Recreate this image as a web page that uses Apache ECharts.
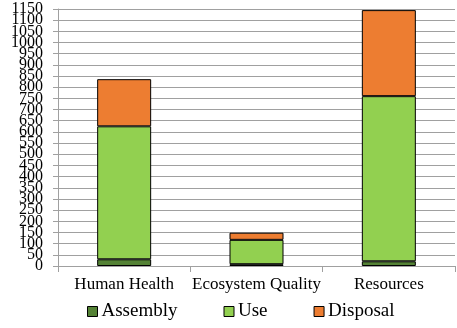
<!DOCTYPE html>
<html>
<head>
<meta charset="utf-8">
<script src="https://cdn.jsdelivr.net/npm/echarts@6/dist/echarts.min.js"></script>
<style>
html,body{margin:0;padding:0;background:#fff;}
#chart{width:457px;height:328px;}
</style>
</head>
<body>
<div id="chart"></div>
<script>
var categories = ['Human Health', 'Ecosystem Quality', 'Resources'];
var assembly = [30, 8, 21];
var use = [595, 109, 739];
var disposal = [211, 32, 385];
var seriesNames = ['Assembly', 'Use', 'Disposal'];
var yMin = 0, yMax = 1150, yStep = 50;

var FONT = '"Liberation Serif", "Times New Roman", serif';
var colors = ['#548235', '#92d050', '#ed7d31'];
var values = [assembly, use, disposal];

var labelBase = {fontFamily: FONT, fontSize: 16, color: '#000', margin: 15, hideOverlap: false};

var chart = echarts.init(document.getElementById('chart'), null, {renderer: 'canvas'});
chart.setOption({
  animation: false,
  textStyle: {fontFamily: FONT, color: '#000'},
  grid: {left: 58, right: 2, top: 9, bottom: 62, containLabel: false},
  legend: {
    data: seriesNames,
    left: 87,
    top: 302,
    padding: 0,
    itemWidth: 10,
    itemHeight: 10,
    itemGap: 46,
    icon: 'rect',
    itemStyle: {borderColor: '#000', borderWidth: 1},
    textStyle: {fontFamily: FONT, fontSize: 19, color: '#000', padding: [0, 0, 0, -1]}
  },
  xAxis: {
    type: 'category',
    data: categories,
    axisLine: {lineStyle: {color: '#a0a0a0', width: 1}},
    axisTick: {show: true, length: 6, lineStyle: {color: '#a0a0a0'}},
    axisLabel: {fontFamily: FONT, fontSize: 17, color: '#000', margin: 10, interval: 0, hideOverlap: false}
  },
  yAxis: [{
    type: 'value',
    position: 'left',
    min: yMin, max: yMax, interval: yStep,
    axisLine: {show: true, lineStyle: {color: '#a0a0a0', width: 1}},
    axisTick: {show: true, length: 5, lineStyle: {color: '#a0a0a0'}},
    splitLine: {lineStyle: {color: '#a0a0a0', width: 1}},
    axisLabel: Object.assign({}, labelBase, {
      showMinLabel: false, showMaxLabel: false,
      formatter: function (v) { return String(v); }
    })
  }, {
    type: 'value',
    position: 'left',
    offset: 0,
    min: yMin, max: yMax, interval: yStep,
    axisLine: {show: false},
    axisTick: {show: true, length: 5, lineStyle: {color: '#a0a0a0'}},
    splitLine: {show: false},
    axisLabel: Object.assign({}, labelBase, {
      showMinLabel: true, showMaxLabel: true,
      formatter: function (v) { return (v === yMin || v === yMax) ? String(v) : ''; }
    })
  }],
  series: seriesNames.map(function (name, i) {
    return {
      name: name,
      type: 'bar',
      stack: 'total',
      yAxisIndex: 0,
      data: values[i],
      barWidth: 54,
      itemStyle: {color: colors[i], borderColor: '#000', borderWidth: 1}
    };
  })
});
</script>
</body>
</html>
